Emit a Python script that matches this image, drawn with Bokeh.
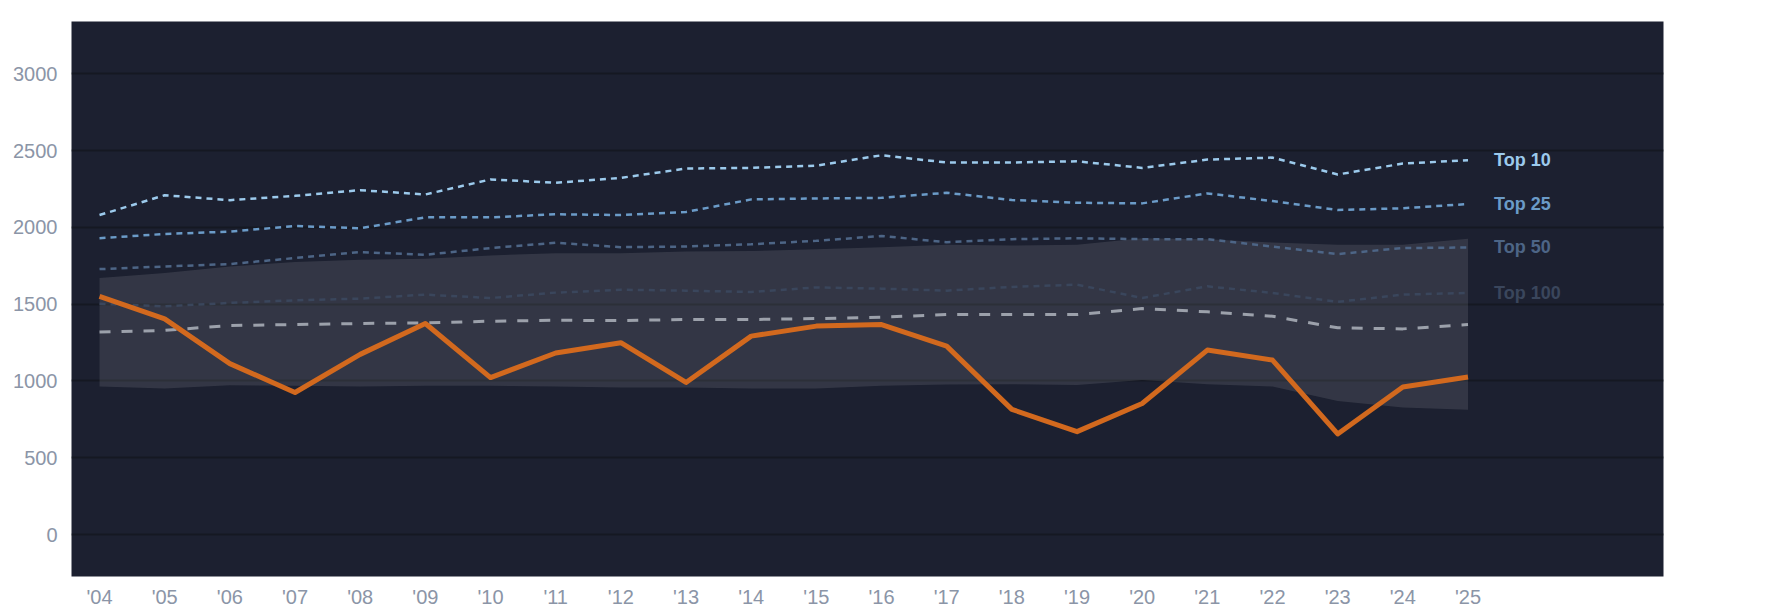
from bokeh.plotting import figure
from bokeh.models import FixedTicker, Range1d, ColumnDataSource
from bokeh.core.properties import value
from bokeh.embed import file_html
from bokeh.resources import INLINE

years = list(range(2004, 2026))
year_labels = ["'04", "'05", "'06", "'07", "'08", "'09", "'10", "'11", "'12", "'13", "'14",
               "'15", "'16", "'17", "'18", "'19", "'20", "'21", "'22", "'23", "'24", "'25"]
y_ticks = [0, 500, 1000, 1500, 2000, 2500, 3000]

top10 = [2080, 2209, 2177, 2205, 2242, 2214, 2312, 2290, 2322, 2383, 2387, 2402, 2469, 2422, 2422, 2430, 2387, 2441, 2454, 2344, 2415, 2437]
top25 = [1929, 1957, 1972, 2009, 1994, 2065, 2065, 2085, 2080, 2100, 2182, 2188, 2192, 2225, 2178, 2160, 2156, 2221, 2171, 2113, 2124, 2152]
top50 = [1728, 1745, 1761, 1800, 1839, 1821, 1865, 1900, 1871, 1875, 1890, 1912, 1944, 1903, 1923, 1929, 1923, 1923, 1875, 1826, 1865, 1869]
top100 = [1502, 1486, 1508, 1525, 1536, 1562, 1540, 1575, 1594, 1588, 1579, 1609, 1601, 1588, 1612, 1627, 1540, 1616, 1573, 1515, 1562, 1573]
median = [1318, 1329, 1361, 1367, 1374, 1378, 1389, 1395, 1393, 1400, 1400, 1406, 1415, 1432, 1432, 1432, 1471, 1450, 1421, 1346, 1339, 1367]
series_value = [1551, 1404, 1113, 925, 1173, 1374, 1022, 1182, 1249, 990, 1292, 1357, 1367, 1227, 815, 670, 853, 1201, 1136, 655, 961, 1026]
band_hi = [1670, 1702, 1745, 1774, 1789, 1795, 1817, 1832, 1832, 1843, 1846, 1858, 1871, 1886, 1881, 1886, 1929, 1923, 1901, 1886, 1886, 1925]
band_lo = [964, 951, 972, 968, 964, 968, 968, 964, 957, 957, 951, 951, 968, 977, 979, 974, 1006, 979, 964, 870, 827, 812]

tier_names = ["Top 10", "Top 25", "Top 50", "Top 100"]
tier_series = [top10, top25, top50, top100]
tier_colors = ["#9ccaec", "#6b9bc8", "#4d6586", "#3a465c"]

FONT = "Liberation Sans"

p = figure(width=1777, height=610, output_backend="svg", toolbar_location=None,
           x_range=Range1d(2003.57, 2028.0), y_range=Range1d(-273, 3340),
           min_border_left=71, min_border_top=21, min_border_right=114, min_border_bottom=33)
p.background_fill_color = "#1c2030"
p.border_fill_color = "#ffffff"
p.outline_line_color = None

p.xgrid.grid_line_color = None
p.ygrid.grid_line_color = "#151822"
p.ygrid.grid_line_width = 2
p.ygrid.ticker = FixedTicker(ticks=y_ticks)

p.xaxis.ticker = FixedTicker(ticks=years)
p.xaxis.major_label_overrides = {y: l for y, l in zip(years, year_labels)}
p.yaxis.ticker = FixedTicker(ticks=y_ticks)
for ax in (p.xaxis[0], p.yaxis[0]):
    ax.axis_line_color = None
    ax.major_tick_line_color = None
    ax.minor_tick_line_color = None
    ax.major_tick_out = 0
    ax.major_tick_in = 0
    ax.minor_tick_out = 0
    ax.major_label_text_color = "#8b95a7"
    ax.major_label_text_font = FONT
    ax.major_label_text_font_size = "20px"
p.xaxis.major_label_standoff = 9
p.yaxis.major_label_standoff = 14

src = ColumnDataSource(dict(x=years, lo=band_lo, hi=band_hi))
p.varea(x="x", y1="lo", y2="hi", source=src, fill_color="#ffffff", fill_alpha=0.1)

for name, ser, col in zip(tier_names, tier_series, tier_colors):
    p.line(years, ser, line_color=col, line_width=2.5, line_dash="6 5")

p.line(years, median, line_color="#9ca1ab", line_width=3, line_dash="11 11")
p.line(years, series_value, line_color="#d2691e", line_width=5, line_join="round")

lab_src = ColumnDataSource(dict(x=[years[-1]] * 4, y=[s[-1] for s in tier_series],
                                t=tier_names, c=tier_colors))
p.text(x="x", y="y", text="t", text_color="c", source=lab_src, x_offset=26,
       text_baseline="middle", text_align="left", text_font=value(FONT),
       text_font_style="bold", text_font_size="18px")

open("out.html", "w").write(file_html(p, INLINE))
